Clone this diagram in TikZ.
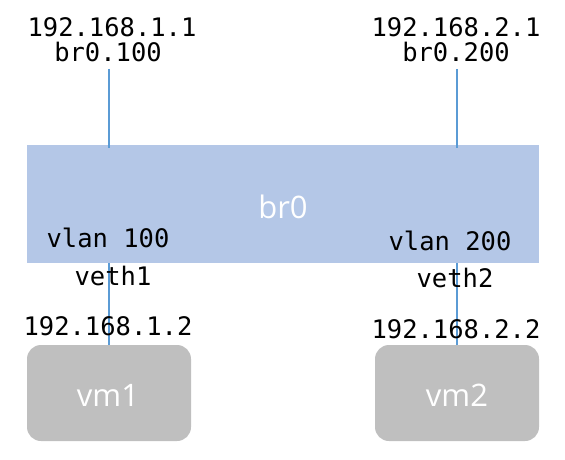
\documentclass[tikz,border=0pt]{standalone}
\usepackage{fontspec}
\setmainfont{Open Sans}
\setmonofont{DejaVu Sans Mono}
\definecolor{linkc}{RGB}{91,155,213}
\definecolor{bridgec}{RGB}{180,199,231}
\definecolor{vmc}{RGB}{191,191,191}
\begin{document}
\begin{tikzpicture}[x=1pt,y=-1pt,
  mono/.style={font=\ttfamily\fontsize{25.5}{27}\selectfont, text=black, inner sep=0pt},
  link/.style={draw=linkc, line width=1.1pt},
  bridge/.style={fill=bridgec, draw=none},
  vm/.style={fill=vmc, draw=none, rounded corners=14pt},
  big/.style={font=\fontsize{31}{33}\selectfont, text=white}]
\useasboundingbox (0,0) rectangle (565,460);
% shapes
\fill[bridge] (27,145) rectangle (539,263);
\fill[vm] (27,345) rectangle (191,441);
\fill[vm] (375,345) rectangle (539,441);
\node[big] (br) at (283,207) {br0};
\node[big] (vm1) at (108,395) {vm1};
\node[big] (vm2) at (457,395) {vm2};
\coordinate (t1) at (109,69);
\coordinate (b1) at (109,148);
\coordinate (t2) at (457,69);
\coordinate (b2) at (457,148);
\coordinate (c1) at (109,263);
\coordinate (d1) at (109,345);
\coordinate (c2) at (457,263);
\coordinate (d2) at (457,345);
\draw[link] (t1) -- (b1);
\draw[link] (t2) -- (b2);
\draw[link] (c1) -- (d1);
\draw[link] (c2) -- (d2);
% labels
\node[mono] (ip1) at (112,27) {192.168.1.1};
\node[mono] (if1) at (108,52) {br0.100};
\node[mono] (ip2) at (456,27) {192.168.2.1};
\node[mono] (if2) at (456,52) {br0.200};
\node[mono] (vl1) at (108,238) {vlan 100};
\node[mono] (vl2) at (450,241) {vlan 200};
\node[mono] (ve1) at (113,276) {veth1};
\node[mono] (ve2) at (455,278) {veth2};
\node[mono] (ip3) at (108,326) {192.168.1.2};
\node[mono] (ip4) at (456,329) {192.168.2.2};
\end{tikzpicture}
\end{document}
